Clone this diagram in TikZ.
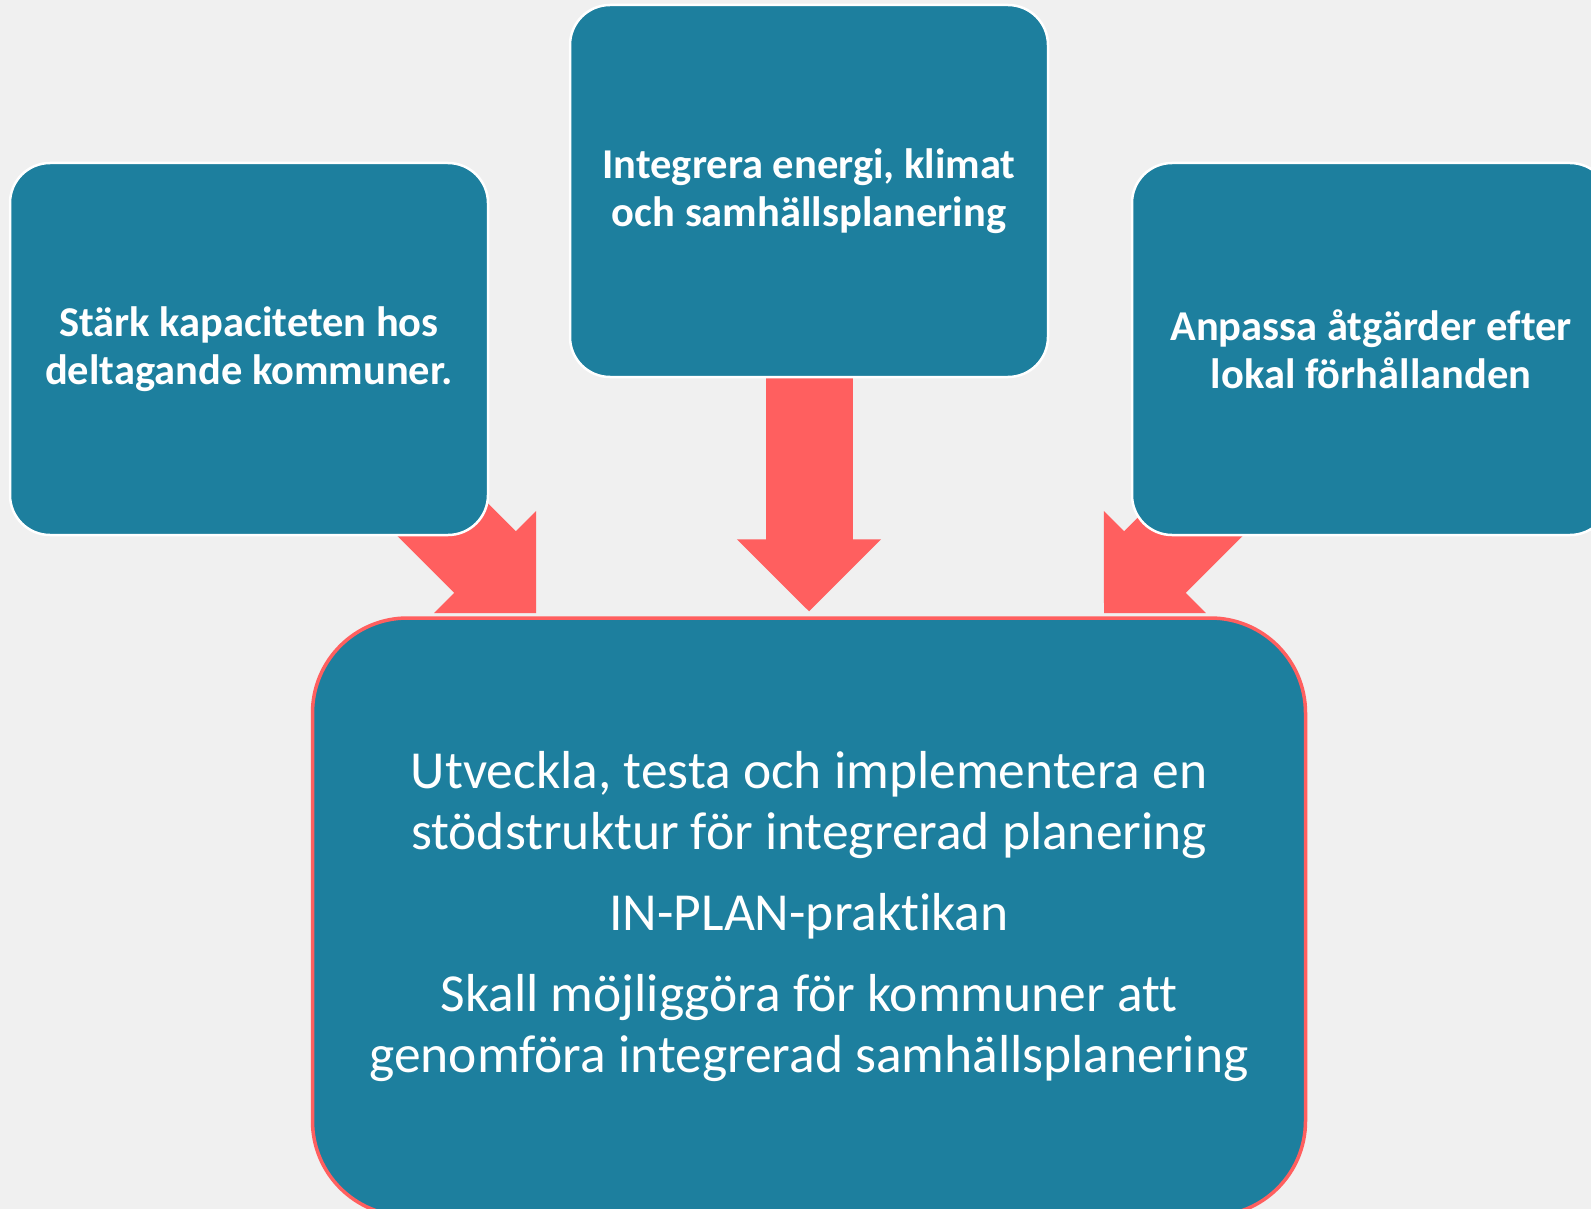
\documentclass[tikz,border=0pt]{standalone}
\usepackage{fontspec}
\setmainfont{Carlito}[Ligatures=NoCommon]
\usetikzlibrary{arrows.meta}
\definecolor{boxblue}{RGB}{29,127,158}
\definecolor{arrowred}{RGB}{255,95,95}
\definecolor{bggray}{RGB}{240,240,240}
\pgfdeclarelayer{back}
\pgfsetlayers{back,main}

\begin{document}
\begin{tikzpicture}[x=1pt,y=-1pt,
  goal node/.style={rectangle,rounded corners=40pt,fill=boxblue,draw=white,line width=2.5pt,
    minimum width=478pt,minimum height=372pt,text=white,align=center,
    font=\fontsize{42.5}{48}\selectfont\bfseries},
  main node/.style={rectangle,rounded corners=95pt,fill=boxblue,draw=arrowred,line width=3.5pt,
    minimum width=993pt,minimum height=598pt,text=white,align=center,
    font=\fontsize{53.5}{61}\selectfont},
  big arrow/.style={draw=arrowred,line width=87pt,
    -{Triangle[length=72pt,width=144pt,line width=2pt]}}]

  \useasboundingbox (0,0) rectangle (1591,1209);

  \node[goal node] (stark) at (249,349) {Stärk kapaciteten hos\\deltagande kommuner.};
  \node[goal node] (integ) at (809,191) {Integrera energi, klimat\\och samhällsplanering};
  \node[goal node] (anpassa) at (1371,349) {Anpassa åtgärder efter\\lokal förhållanden};
  \node[main node] (utv) at (809,917) {Utveckla, testa och implementera en\\stödstruktur för integrerad planering\\[20pt]
    IN-PLAN-praktikan\\[20pt]
    Skall möjliggöra för kommuner att\\genomföra integrerad samhällsplanering};

  \coordinate (tipL) at (536,613);
  \coordinate (tipR) at (1104,613);
  \path (tipL) ++(-140,-140) coordinate (tailL);
  \path (tipR) ++(140,-140) coordinate (tailR);

  % arrows go behind the boxes
  \begin{pgfonlayer}{back}
  \fill[bggray] (0,0) rectangle (1591,1209);
  \path
   (tailL) edge[big arrow] (tipL)
   (integ) edge[big arrow,shorten >=5pt] (utv)
   (tailR) edge[big arrow] (tipR);
  \end{pgfonlayer}
\end{tikzpicture}
\end{document}
